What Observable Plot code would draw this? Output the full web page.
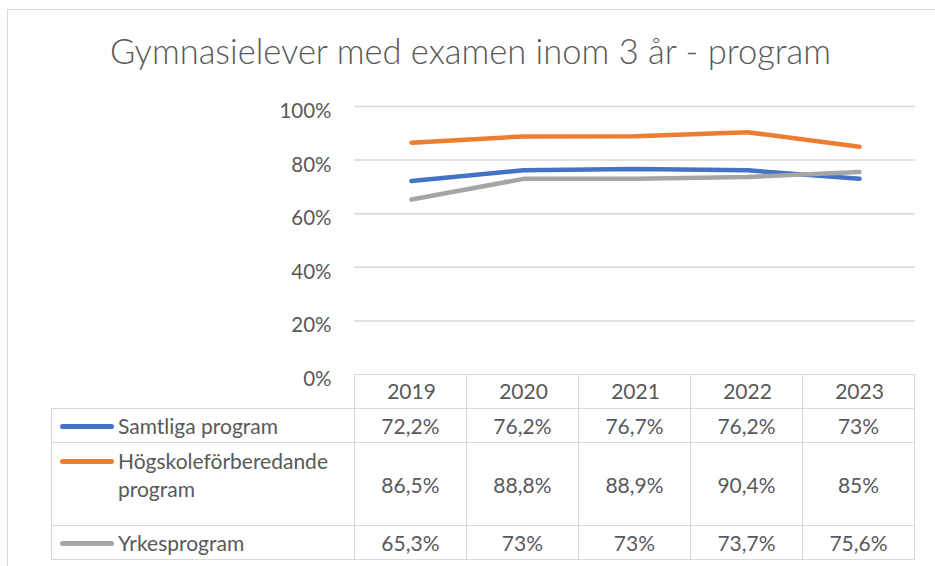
<!DOCTYPE html>
<html>
<head>
<meta charset="utf-8">
<script src="https://cdn.jsdelivr.net/npm/d3@7"></script>
<script src="https://cdn.jsdelivr.net/npm/@observablehq/plot@0.6"></script>
<style>
  html, body { margin: 0; padding: 0; background: #fff; }
  #wrap { position: relative; width: 935px; height: 566px; overflow: hidden; background: #fff; font-family: Lato, "Open Sans", sans-serif; color: #595959; }
  #frame { position: absolute; left: 7px; top: 9px; width: 2000px; height: 2000px; border: 1px solid #d9d9d9; box-sizing: border-box; }
  #title { position: absolute; left: 0; top: 30px; width: 941px; text-align: center; font-size: 34.5px; font-weight: 300; color: #595959; white-space: nowrap; }
  #plot { position: absolute; left: 0; top: 0; }
  #tbl { position: absolute; border-collapse: collapse; font-size: 21px; color: #595959; }
  #tbl td { border: 1.5px solid #d9d9d9; padding: 0; text-align: center; vertical-align: middle; box-sizing: border-box; }
  #tbl td.blank { border-left: none; border-top: none; }
  #tbl td.lab { text-align: left; }
  .labin { display: flex; align-items: flex-start; }
  .key { flex: none; width: 54px; height: 5px; border-radius: 3px; margin-left: 8px; margin-right: 4px; }
  .txt { line-height: 28px; }
</style>
</head>
<body>
<div id="wrap">
  <div id="frame"></div>
  <div id="title">Gymnasielever med examen inom 3 år - program</div>
  <div id="plot"></div>
  <table id="tbl"></table>
</div>
<script>
const years = ["2019", "2020", "2021", "2022", "2023"];
const seriesNames = ["Samtliga program", "Högskoleförberedande program", "Yrkesprogram"];
const seriesLabelLines = [["Samtliga program"], ["Högskoleförberedande", "program"], ["Yrkesprogram"]];
const seriesColors = ["#4472C4", "#ED7D31", "#A5A5A5"];
const samtliga = [72.2, 76.2, 76.7, 76.2, 73];
const hogskoleforberedande = [86.5, 88.8, 88.9, 90.4, 85];
const yrkesprogram = [65.3, 73, 73, 73.7, 75.6];
const yTicks = [0, 20, 40, 60, 80, 100];

const seriesValues = [samtliga, hogskoleforberedande, yrkesprogram];
const data = [];
seriesNames.forEach((s, i) => years.forEach((y, j) => data.push({series: s, year: y, value: seriesValues[i][j]})));

const fmt = v => String(v).replace(".", ",") + "%";

const chart = Plot.plot({
  width: 935,
  height: 408,
  marginTop: 106,
  marginBottom: 34,
  marginLeft: 354,
  marginRight: 20,
  style: {fontFamily: "Lato, 'Open Sans', sans-serif", color: "#595959", background: "transparent"},
  x: {type: "point", domain: years, padding: 0.5},
  y: {domain: [0, 100]},
  color: {domain: seriesNames, range: seriesColors},
  marks: [
    Plot.gridY(yTicks.filter(d => d > 0), {stroke: "#d9d9d9", strokeOpacity: 1, strokeWidth: 1.5}),
    Plot.axisY(yTicks, {tickSize: 0, tickPadding: 23, tickFormat: d => d + "%", fontSize: 20.5, fill: "#595959", dy: 5, label: null}),
    Plot.axisX({tickSize: 0, tickPadding: 10, fontSize: 21, fill: "#595959", label: null}),
    Plot.line(data, {x: "year", y: "value", z: "series", stroke: "series", strokeWidth: 4.5, strokeLinecap: "round", strokeLinejoin: "round"})
  ]
});
document.getElementById("plot").appendChild(chart);

// Table laid out from the plot's x scale
const xs = chart.scale("x");
const step = (xs.range[1] - xs.range[0]) / years.length;
const tableLeft = 51;
const tbl = document.getElementById("tbl");
tbl.style.left = tableLeft + "px";
tbl.style.top = "374px";
const firstW = xs.range[0] - tableLeft;
const rowHeights = [34, 34, 83, 34];

let html = "<colgroup><col style='width:" + firstW + "px'>" + years.map(() => "<col style='width:" + step + "px'>").join("") + "</colgroup>";
html += "<tr style='height:" + rowHeights[0] + "px'><td class='blank'></td>" + years.map(() => "<td></td>").join("") + "</tr>";
seriesNames.forEach((s, i) => {
  const lines = seriesLabelLines[i];
  const keyTop = 12;
  html += "<tr style='height:" + rowHeights[i + 1] + "px'><td class='lab' style='vertical-align:" + (lines.length > 1 ? "top" : "middle") + ";padding-top:" + (lines.length > 1 ? 4 : 0) + "px'>" +
    "<div class='labin'><span class='key' style='background:" + seriesColors[i] + ";margin-top:" + keyTop + "px'></span><span class='txt'>" + lines.join("<br>") + "</span></div></td>" +
    seriesValues[i].map(v => "<td>" + fmt(v) + "</td>").join("") + "</tr>";
});
tbl.innerHTML = html;
tbl.style.width = (firstW + step * years.length) + "px";
</script>
</body>
</html>
